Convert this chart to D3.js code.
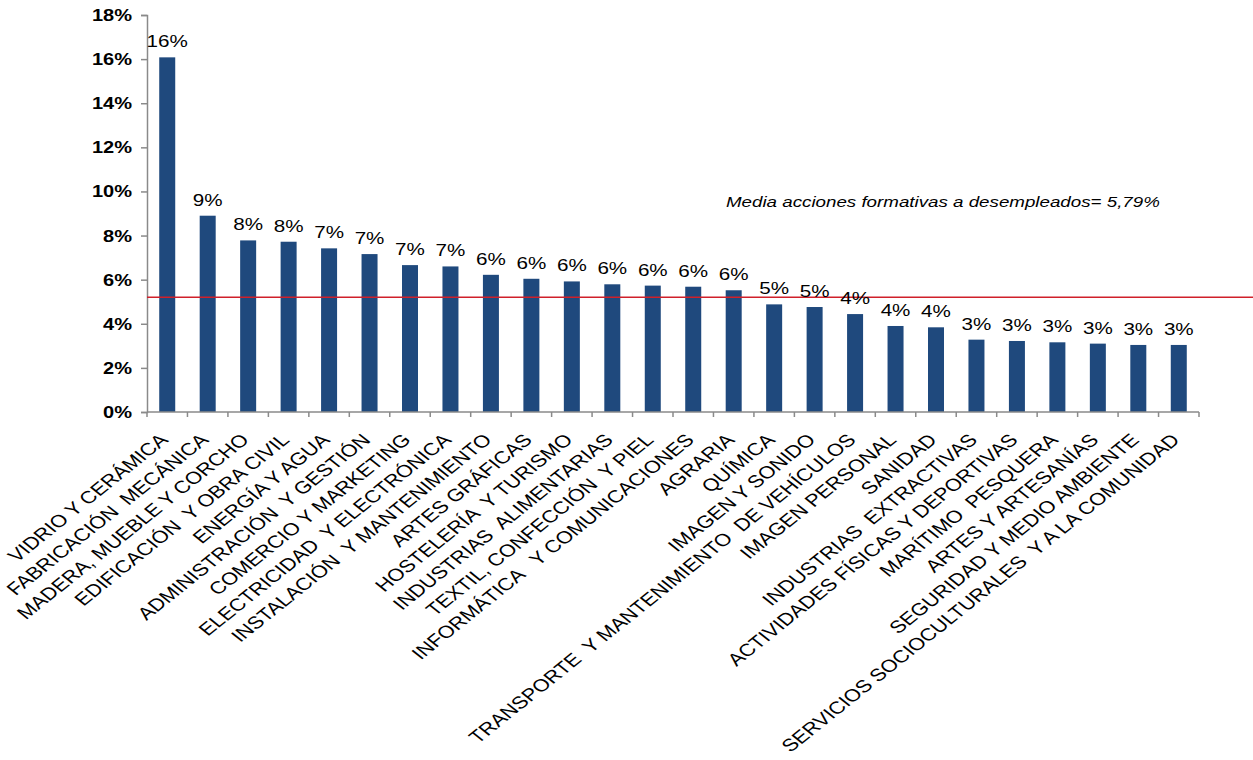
<!DOCTYPE html>
<html>
<head>
<meta charset="utf-8">
<script src="https://cdn.jsdelivr.net/npm/d3@7"></script>
<style>
  html, body { margin: 0; padding: 0; background: #ffffff; }
  svg { display: block; }
  text { font-family: "Liberation Sans", Arial, sans-serif; white-space: pre; }
</style>
</head>
<body>
<svg id="chart" width="1253" height="760"></svg>
<script>
// ---- data ----
const categories = [
  "VIDRIO Y CERÁMICA",
  "FABRICACIÓN  MECÁNICA",
  "MADERA, MUEBLE Y CORCHO",
  "EDIFICACIÓN  Y OBRA CIVIL",
  "ENERGÍA Y AGUA",
  "ADMINISTRACIÓN  Y GESTIÓN",
  "COMERCIO Y MARKETING",
  "ELECTRICIDAD  Y ELECTRÓNICA",
  "INSTALACIÓN  Y MANTENIMIENTO",
  "ARTES GRÁFICAS",
  "HOSTELERÍA  Y TURISMO",
  "INDUSTRIAS  ALIMENTARIAS",
  "TEXTIL, CONFECCIÓN  Y PIEL",
  "INFORMÁTICA   Y COMUNICACIONES",
  "AGRARIA",
  "QUÍMICA",
  "IMAGEN Y SONIDO",
  "TRANSPORTE  Y MANTENIMIENTO  DE VEHÍCULOS",
  "IMAGEN PERSONAL",
  "SANIDAD",
  "INDUSTRIAS  EXTRACTIVAS",
  "ACTIVIDADES FÍSICAS Y DEPORTIVAS",
  "MARÍTIMO  PESQUERA",
  "ARTES Y ARTESANÍAS",
  "SEGURIDAD Y MEDIO AMBIENTE",
  "SERVICIOS SOCIOCULTURALES  Y A LA COMUNIDAD"
];
const values = [16.08, 8.90, 7.78, 7.72, 7.42, 7.16, 6.66, 6.60, 6.22, 6.04, 5.92, 5.79, 5.73,
                5.68, 5.52, 4.88, 4.76, 4.44, 3.90, 3.84, 3.28, 3.22, 3.16, 3.10, 3.04, 3.04];
const yTicks = [0, 2, 4, 6, 8, 10, 12, 14, 16, 18];
const meanLineValue = 5.2;
const meanLabel = "Media acciones formativas a desempleados= 5,79%";

// ---- layout ----
const S = 1.25; // horizontal text stretch
const svg = d3.select("#chart");
const x0 = 147, x1 = 1199, yTop = 15, yBot = 412;

const x = d3.scaleBand().domain(categories).range([x0, x1]).paddingInner(0).paddingOuter(0);
const y = d3.scaleLinear().domain([0, 18]).range([yBot, yTop]);
const barW = 16;
const pct = v => d3.format(".0%")(v / 100);
const axisColor = "#8a8a8a";

// bars
svg.append("g").selectAll("rect").data(values).enter().append("rect")
  .attr("x", (d, i) => x(categories[i]) + x.bandwidth() / 2 - barW / 2)
  .attr("y", d => y(d))
  .attr("width", barW)
  .attr("height", d => yBot - y(d))
  .attr("fill", "#1f497d");

// y axis
const yAxis = d3.axisLeft(y).tickValues(yTicks).tickSize(6).tickFormat(d => d + "%");
const gy = svg.append("g").attr("transform", `translate(${x0},0)`).call(yAxis);
gy.select(".domain").attr("stroke", axisColor).attr("stroke-width", 1.5);
gy.selectAll(".tick line").attr("stroke", axisColor).attr("stroke-width", 1.5);
gy.selectAll(".tick text").each(function(d) {
  const t = d3.select(this);
  t.attr("x", null).attr("dy", null)
   .attr("transform", `translate(-15,${5.5}) scale(${S},1)`)
   .attr("font-size", 16).attr("font-weight", "bold").attr("fill", "#000")
   .attr("font-family", "'Liberation Sans', Arial, sans-serif")
   .attr("text-anchor", "end");
});

// x axis (ticks at band boundaries)
const gx = svg.append("g");
gx.append("line").attr("x1", x0).attr("x2", x1).attr("y1", yBot).attr("y2", yBot)
  .attr("stroke", axisColor).attr("stroke-width", 1.5);
const boundaries = categories.map(c => x(c)).concat([x1]);
gx.selectAll("line.tk").data(boundaries).enter().append("line").attr("class", "tk")
  .attr("x1", d => d).attr("x2", d => d).attr("y1", yBot).attr("y2", yBot + 5)
  .attr("stroke", axisColor).attr("stroke-width", 1.5);

// category labels
svg.append("g").selectAll("text").data(categories).enter().append("text")
  .attr("transform", d => `translate(${x(d) + x.bandwidth() / 2 + 2},441) scale(${S},1) rotate(-45)`)
  .attr("text-anchor", "end")
  .attr("font-size", 17.4)
  .attr("fill", "#000")
  .text(d => d);

// mean line
svg.append("line")
  .attr("x1", x0).attr("x2", 1253)
  .attr("y1", y(meanLineValue)).attr("y2", y(meanLineValue))
  .attr("stroke", "#d0202a").attr("stroke-width", 1.5);

// value labels
svg.append("g").selectAll("text").data(values).enter().append("text")
  .attr("transform", (d, i) => `translate(${x(categories[i]) + x.bandwidth() / 2},${y(d) - 10}) scale(${S},1)`)
  .attr("text-anchor", "middle")
  .attr("font-size", 16.5)
  .attr("fill", "#000")
  .text(d => pct(d));

// mean annotation
svg.append("text")
  .attr("transform", `translate(726,207) scale(${S},1)`)
  .attr("font-size", 15)
  .attr("font-style", "italic")
  .attr("fill", "#000")
  .text(meanLabel);
</script>
</body>
</html>
